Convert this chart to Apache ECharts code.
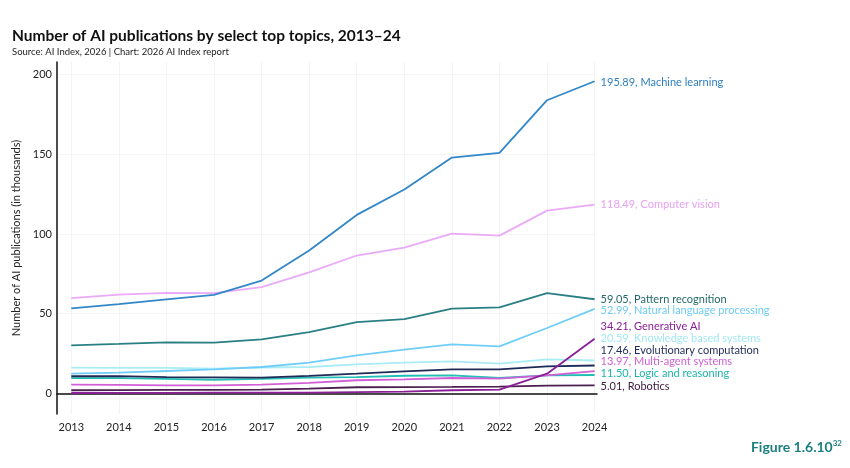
<!DOCTYPE html>
<html>
<head>
<meta charset="utf-8">
<script src="https://cdn.jsdelivr.net/npm/echarts@6/dist/echarts.min.js"></script>
<style>
  html, body { margin: 0; padding: 0; background: #fff; }
  #chart { width: 850px; height: 468px; }
</style>
</head>
<body>
<div id="chart"></div>
<script>
// years on the x axis
var years = [2013, 2014, 2015, 2016, 2017, 2018, 2019, 2020, 2021, 2022, 2023, 2024];
var yTicks = [0, 50, 100, 150, 200];

// publications, in thousands
var machineLearning   = [53.3, 56.0, 59.0, 61.8, 70.8, 89.7, 112.0, 128.0, 148.0, 151.0, 184.0, 195.89];
var computerVision    = [59.8, 62.0, 63.0, 62.9, 66.7, 75.9, 86.5, 91.5, 100.3, 99.0, 114.7, 118.49];
var patternRecog      = [30.1, 31.0, 32.0, 31.8, 33.9, 38.4, 44.7, 46.6, 53.1, 53.9, 62.9, 59.05];
var nlp               = [12.3, 13.0, 14.0, 15.0, 16.5, 19.2, 23.8, 27.4, 30.7, 29.5, 41.0, 52.99];
var generativeAI      = [0.2, 0.3, 0.3, 0.4, 0.4, 0.4, 0.7, 1.0, 1.9, 2.3, 12.3, 34.21];
var knowledgeSystems  = [16.1, 16.0, 16.0, 15.5, 16.2, 16.5, 18.2, 19.2, 20.1, 18.6, 21.3, 20.59];
var evolutionary      = [10.7, 10.8, 10.2, 10.0, 9.8, 10.9, 12.3, 13.8, 15.0, 15.0, 16.9, 17.46];
var multiAgent        = [5.4, 5.3, 5.0, 5.0, 5.5, 6.5, 8.2, 8.8, 9.6, 9.2, 11.3, 13.97];
var logicReasoning    = [9.5, 9.5, 9.0, 8.5, 9.0, 9.8, 10.2, 11.0, 11.3, 9.6, 11.3, 11.50];
var robotics          = [1.9, 2.0, 2.2, 2.2, 2.3, 2.9, 3.8, 3.9, 4.0, 4.2, 4.8, 5.01];

var chart = echarts.init(document.getElementById('chart'));
var font = 'Lato, Inter, sans-serif';

function mk(name, vals, color, textColor, dy) {
  return {
    name: name,
    type: 'line',
    symbol: 'none',
    data: years.map(function (y, i) { return [y, vals[i]]; }),
    lineStyle: { color: color, width: 1.8 },
    itemStyle: { color: color },
    endLabel: {
      show: true,
      offset: [0, dy],
      distance: 6,
      color: textColor,
      fontFamily: font,
      fontSize: 11,
      formatter: function (p) { return p.value[1].toFixed(2) + ', ' + p.seriesName; }
    },
    emphasis: { disabled: true }
  };
}

var option = {
  animation: false,
  backgroundColor: '#fff',
  title: [{
    text: 'Number of AI publications by select top topics, 2013–24',
    left: 12, top: 28, padding: 0,
    textStyle: { fontFamily: font, fontSize: 15.5, fontWeight: 'bold', color: '#111' }
  }, {
    text: 'Source: AI Index, 2026 | Chart: 2026 AI Index report',
    left: 12, top: 47, padding: 0,
    textStyle: { fontFamily: font, fontSize: 9.5, fontWeight: 'normal', color: '#222' }
  }, {
    text: '{a|Figure 1.6.10}{b|32}',
    right: 3, top: 434,
    textStyle: {
      rich: {
        a: { fontFamily: font, fontSize: 14, fontWeight: 'bold', color: '#1b7f7f' },
        b: { fontFamily: font, fontSize: 8, fontWeight: 'bold', color: '#1b7f7f', verticalAlign: 'top', padding: [0, 0, 8, 0] }
      }
    }
  }],
  grid: { left: 57, right: 253, top: 62, bottom: 54 },
  xAxis: {
    type: 'value',
    min: 2012.7,
    max: 2024.05,
    axisLine: { show: true, lineStyle: { color: '#111', width: 1.5 } },
    axisTick: { show: false, customValues: years },
    axisLabel: {
      customValues: years,
      color: '#222', fontFamily: font, fontSize: 11, margin: 8,
      formatter: function (v) { return String(v); }
    },
    splitLine: { show: true, lineStyle: { color: '#f4f4f4', width: 1 } }
  },
  yAxis: {
    type: 'value',
    min: -13,
    max: 208,
    name: 'Number of AI publications (in thousands)',
    nameLocation: 'middle',
    nameGap: 31,
    nameTextStyle: { fontFamily: font, fontSize: 11, color: '#222' },
    axisLine: { show: true, lineStyle: { color: '#111', width: 1.5 } },
    axisTick: { show: false, customValues: yTicks },
    axisLabel: { customValues: yTicks, color: '#222', fontFamily: font, fontSize: 11, margin: 5 },
    splitLine: { show: true, lineStyle: { color: '#f4f4f4', width: 1 } }
  },
  series: [
    mk('Robotics', robotics, '#4b1f4f', '#3a1a3d', 1),
    mk('Logic and reasoning', logicReasoning, '#22bdb3', '#1fb5aa', -2),
    mk('Multi-agent systems', multiAgent, '#d25fd6', '#cf5fd4', -10),
    mk('Evolutionary computation', evolutionary, '#1f2a57', '#1f2a57', -15),
    mk('Knowledge based systems', knowledgeSystems, '#a9ecf4', '#a2e8f2', -22),
    mk('Generative AI', generativeAI, '#8a1f98', '#8a1f98', -12),
    mk('Natural language processing', nlp, '#70cdf8', '#6ecbf5', 1.5),
    mk('Pattern recognition', patternRecog, '#2a7f83', '#24676a', 0),
    mk('Computer vision', computerVision, '#eaaaf8', '#e6a2f3', 0),
    mk('Machine learning', machineLearning, '#3287c8', '#2f7fbf', 1)
  ]
};

chart.setOption(option);
</script>
</body>
</html>
